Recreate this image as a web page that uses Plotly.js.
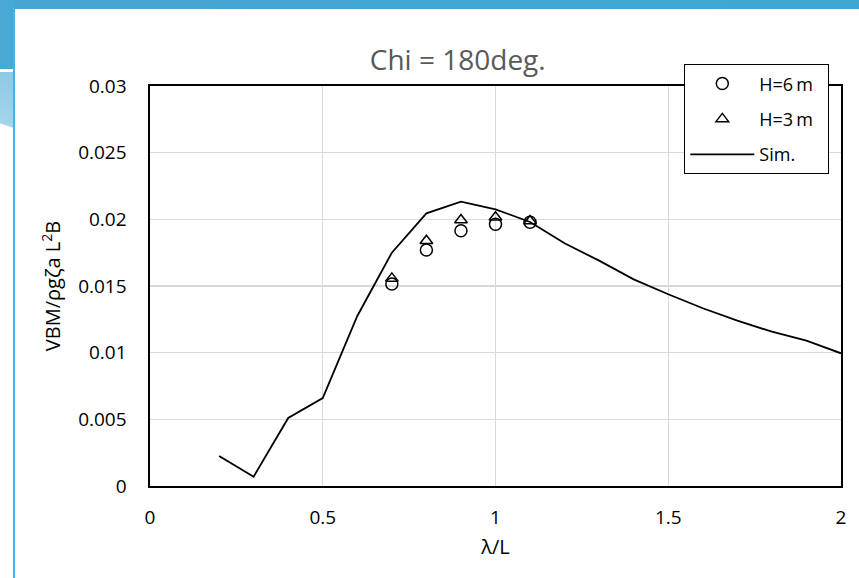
<!DOCTYPE html>
<html>
<head>
<meta charset="utf-8">
<script src="https://cdn.plot.ly/plotly-3.0.1.min.js"></script>
<style>
  html, body { margin: 0; padding: 0; background: #ffffff; width: 859px; height: 578px; overflow: hidden; }
  #topband { position: absolute; left: 0; top: 0; width: 859px; height: 9px; background: linear-gradient(to right, #45a6d0, #3fa6d4); }
  #leftdark { position: absolute; left: 0; top: 0; width: 14px; height: 69px; background: #4aa9d2; }
  #leftlight { position: absolute; left: 0; top: 72px; width: 14px; height: 56px; background: linear-gradient(#8ccae3, #a6d6ea); clip-path: polygon(0 0, 100% 0, 100% 100%, 0 92%); }
  #leftline { position: absolute; left: 13px; top: 8px; width: 2px; height: 570px; background: #3cb6ea; }
  #chart { position: absolute; left: 16px; top: 9px; width: 843px; height: 569px; }
</style>
</head>
<body>
<div id="topband"></div>
<div id="leftdark"></div>
<div id="leftlight"></div>
<div id="leftline"></div>
<div id="chart"></div>
<script>
// Simulation curve
const simX = [0.2, 0.3, 0.4, 0.5, 0.6, 0.7, 0.8, 0.9, 1.0, 1.1, 1.2, 1.3, 1.4, 1.5, 1.6, 1.7, 1.8, 1.9, 2.0];
const simY = [0.00225, 0.0007, 0.0051, 0.0066, 0.01275, 0.0175, 0.02045, 0.02132, 0.02075, 0.0198, 0.0182, 0.0169, 0.0155, 0.01438, 0.01333, 0.0124, 0.01157, 0.0109, 0.00995];
// Experiments
const expX = [0.7, 0.8, 0.9, 1.0, 1.1];
const h6Y = [0.01515, 0.0177, 0.01915, 0.01963, 0.01978];
const h3Y = [0.01557, 0.0184, 0.01995, 0.02015, 0.01988];
// Ticks
const xTicks = [0, 0.5, 1, 1.5, 2];
const xTickText = ['0', '0.5', '1', '1.5', '2'];
const yTicks = [0, 0.005, 0.01, 0.015, 0.02, 0.025, 0.03];
const yTickText = ['0', '0.005', '0.01', '0.015', '0.02', '0.025', '0.03'];
// Legend names
const seriesNames = ['H=6\u2009m', 'H=3\u2009m', 'Sim.'];

const FONT = 'Open Sans, Noto Sans, sans-serif';
const PAD = '\u00A0\u00A0';

const traces = [
  {
    x: expX, y: h6Y, type: 'scatter', mode: 'markers', name: seriesNames[0] + PAD, legendgroup: 'a',
    marker: { symbol: 'circle-open', size: 12, color: '#000', line: { width: 1.5, color: '#000' } }
  },
  {
    x: expX, y: h3Y, type: 'scatter', mode: 'markers', name: seriesNames[1] + PAD, legendgroup: 'b',
    marker: { symbol: 'triangle-up-open', size: 11, color: '#000', line: { width: 1.5, color: '#000' } }
  },
  {
    x: simX, y: simY, type: 'scatter', mode: 'lines', name: seriesNames[2], legendgroup: 'c',
    line: { color: '#000', width: 1.8 }
  }
];

const layout = {
  width: 843, height: 569,
  margin: { l: 134, r: 18, t: 77, b: 92 },
  paper_bgcolor: '#ffffff', plot_bgcolor: '#ffffff',
  font: { family: FONT, color: '#000', size: 18 },
  title: { text: 'Chi = 180deg.', font: { family: FONT, size: 28, color: '#595959' }, x: 0.524, xanchor: 'center', y: 0.91, yanchor: 'middle' },
  showlegend: true,
  legend: {
    x: 0.7728, xanchor: 'left', y: 1.055, yanchor: 'top',
    bgcolor: '#ffffff', bordercolor: '#000', borderwidth: 1.3,
    font: { family: FONT, size: 18, color: '#000' },
    tracegroupgap: 9, itemwidth: 64
  },
  xaxis: {
    range: [0, 2], tickvals: xTicks, ticktext: xTickText,
    showgrid: true, gridcolor: '#d9d9d9', gridwidth: 1.3,
    showline: true, linecolor: '#000', linewidth: 1.6, mirror: true,
    zeroline: false, ticks: '', ticklabelstandoff: 14,
    tickfont: { family: FONT, size: 19, color: '#000' },
    title: { text: 'λ/L', font: { family: FONT, size: 20, color: '#000' }, standoff: 10 }
  },
  yaxis: {
    range: [0, 0.03], tickvals: yTicks, ticktext: yTickText,
    showgrid: true, gridcolor: '#d9d9d9', gridwidth: 1.3,
    showline: true, linecolor: '#000', linewidth: 1.6, mirror: true,
    zeroline: false, ticks: '', ticklabelstandoff: 18,
    automargin: true,
    tickfont: { family: FONT, size: 19, color: '#000' },
    title: { text: 'VBM/ρgζa L<sup>2</sup>B', font: { family: FONT, size: 20, color: '#000' }, standoff: 12 }
  }
};

Plotly.newPlot('chart', traces, layout, { displayModeBar: false, staticPlot: true });
</script>
</body>
</html>
